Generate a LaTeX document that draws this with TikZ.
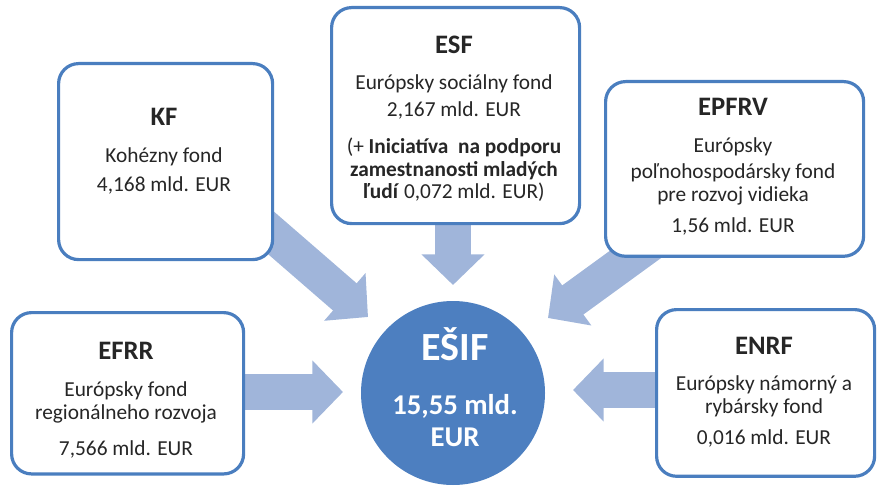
\documentclass[tikz,border=0pt]{standalone}
\usepackage{fontspec}
\setmainfont{Carlito}
\usetikzlibrary{arrows.meta}
\definecolor{boxblue}{HTML}{4A7EBF}
\definecolor{circblue}{HTML}{4D7FC0}
\definecolor{arrblue}{HTML}{A0B5DA}
\newcommand{\ttl}{\fontsize{20}{24}\selectfont\bfseries}
\newcommand{\bdy}{\fontsize{16}{19}\selectfont}
\begin{document}
\begin{tikzpicture}[x=0.75pt,y=-0.75pt,
  fundbox/.style={draw=boxblue,line width=2.4pt,rounded corners=15pt,fill=white,anchor=north west,inner sep=0pt},
  blockarrow/.style={draw=arrblue,line width=27pt,-{Triangle[width=46pt,length=23pt,fill=arrblue]}},
  txt/.style={inner sep=0pt,anchor=base,text=black!85}]
\useasboundingbox (0,0) rectangle (880,488);
% arrows (under boxes)
\coordinate (aTs) at (453,200); \coordinate (aTe) at (453,285);
\coordinate (aKs) at (255,219); \coordinate (aKe) at (368,317);
\coordinate (aPs) at (669,230); \coordinate (aPe) at (548,318);
\coordinate (aLs) at (230,392); \coordinate (aLe) at (343,392);
\coordinate (aRs) at (680,390); \coordinate (aRe) at (573,390);
\draw[blockarrow] (aTs) -- (aTe);
\draw[blockarrow] (aKs) -- (aKe);
\draw[blockarrow] (aPs) -- (aPe);
\draw[blockarrow] (aLs) -- (aLe);
\draw[blockarrow] (aRs) -- (aRe);
% boxes
\node[fundbox,minimum width=160.5pt,minimum height=147pt] (kf) at (57,62) {};
\node[fundbox,minimum width=186pt,minimum height=162pt] (esf) at (330,6) {};
\node[fundbox,minimum width=193.5pt,minimum height=131pt] (epfrv) at (604,80) {};
\node[fundbox,minimum width=174pt,minimum height=121pt] (efrr) at (10,311) {};
\node[fundbox,minimum width=163.5pt,minimum height=125pt] (enrf) at (655,308) {};
% circle
\node[circle,fill=circblue,minimum size=138pt,inner sep=0pt] (esif) at (453,393) {};
% texts
\node[txt] (kf1) at (164,126) {\ttl KF};
\node[txt] (kf2) at (164,163) {\bdy Kohézny fond};
\node[txt] (kf3) at (164,192) {\bdy 4,168 mld. EUR};
\node[txt] (esf1) at (454,54) {\ttl ESF};
\node[txt] (esf2) at (454,90) {\bdy Európsky sociálny fond};
\node[txt] (esf3) at (454,117) {\bdy 2,167 mld. EUR};
\node[txt] (esf4) at (454,154) {\bdy (+ \textbf{Iniciatíva\ \ na podporu}};
\node[txt] (esf5) at (454,176) {\bdy\bfseries zamestnanosti mladých};
\node[txt] (esf6) at (454,199) {\bdy\textbf{ľudí} 0,072 mld. EUR)};
\node[txt] (p1) at (733,116) {\ttl EPFRV};
\node[txt] (p2) at (733,153) {\bdy Európsky};
\node[txt] (p3) at (733,179) {\bdy poľnohospodársky fond};
\node[txt] (p4) at (733,202) {\bdy pre rozvoj vidieka};
\node[txt] (p5) at (733,233) {\bdy 1,56 mld. EUR};
\node[txt] (r1) at (126,359) {\ttl EFRR};
\node[txt] (r2) at (126,396) {\bdy Európsky fond};
\node[txt] (r3) at (126,419) {\bdy regionálneho rozvoja};
\node[txt] (r4) at (126,455) {\bdy 7,566 mld. EUR};
\node[txt] (n1) at (764,354) {\ttl ENRF};
\node[txt] (n2) at (764,390) {\bdy Európsky námorný a};
\node[txt] (n3) at (764,413) {\bdy rybársky fond};
\node[txt] (n4) at (764,444) {\bdy 0,016 mld. EUR};
\node[txt,text=white] (c1) at (455,360) {\fontsize{30}{33}\selectfont\bfseries EŠIF};
\node[txt,text=white] (c2) at (455,414) {\fontsize{21.5}{24}\selectfont\bfseries 15,55 mld.};
\node[txt,text=white] (c3) at (455,446) {\fontsize{21.5}{24}\selectfont\bfseries EUR};
\end{tikzpicture}
\end{document}
